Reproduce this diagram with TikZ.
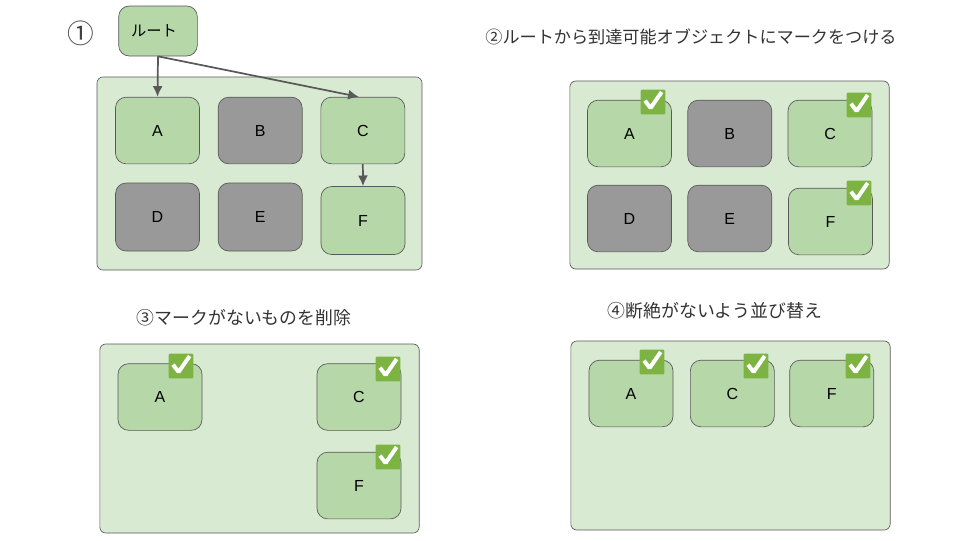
\documentclass[tikz,border=0pt]{standalone}
\usepackage{fontspec}
\setmainfont{Liberation Sans}
\newfontfamily\jpfont{Noto Sans CJK JP}
\usetikzlibrary{arrows.meta}
\definecolor{panel_col}{HTML}{D9EAD3}
\definecolor{live_col}{HTML}{B6D7A8}
\definecolor{dead_col}{HTML}{999999}
\definecolor{line_col}{HTML}{595959}
\definecolor{tick_col}{HTML}{7CB342}
\tikzstyle{line} = [draw=line_col, line width=1.3pt, -{Latex[length=8pt, width=7.5pt]}]
\tikzstyle{panel} = [rectangle, draw=line_col, line width=0.5pt, fill=panel_col, rounded corners=4.5pt, inner sep=0pt]
\tikzstyle{live} = [rectangle, draw=line_col, line width=0.5pt, fill=live_col, rounded corners=8pt, minimum width=63pt, minimum height=50pt, inner sep=0pt, font=\fontsize{12}{14}\selectfont, node distance=76pt]
\tikzstyle{dead} = [live, fill=dead_col]
\tikzstyle{title} = [text=black!80, inner sep=0pt, font=\jpfont\fontsize{13.4}{15}\selectfont]
\tikzstyle{tick} = [rectangle, fill=tick_col, rounded corners=0.8pt, minimum size=18.5pt, inner sep=0pt, path picture={
	\draw [white, line width=3pt, line join=miter] ([shift={(-6pt,1pt)}]path picture bounding box.center) -- ([shift={(-1.8pt,-4.5pt)}]path picture bounding box.center) -- ([shift={(6.5pt,7.5pt)}]path picture bounding box.center);
}]
\begin{document}
\begin{tikzpicture}[x=0.75pt, y=-0.75pt]
	\useasboundingbox (0,0) rectangle (960,540);
	
	% step 1
	\node [title, text=black!75, font=\jpfont\fontsize{20}{22}\selectfont] (t1) at (81,33) {①};
	\node [panel, minimum width=243.75pt, minimum height=144.75pt] (p1) at (259.5,173.5) {};
	\node [live, minimum width=59pt, minimum height=37.5pt, font=\jpfont\fontsize{11.5}{13}\selectfont, text depth=0pt, xshift=0pt] (root) at (158,31) {\hspace*{-6pt}ルート};
	\node [live] (a1) at (157.5,130.5) {A};
	\node [dead, right of=a1, node distance=77pt] (b1) {B};
	\node [live, right of=b1, node distance=77pt] (c1) {C};
	\node [dead, minimum height=51pt] (d1) at (157.5,217) {D};
	\node [dead, right of=d1, minimum height=51pt, node distance=77pt] (e1) {E};
	\node [live, minimum height=51pt] (f1) at (363,220.5) {F};
	\path [line] (root.south) to (a1.north);
	\path [line] (root.south) to ([xshift=-3pt]c1.north);
	\path [line] (c1.south) to (f1.north);
	
	% step 2
	\node [title, font=\jpfont\fontsize{12.85}{15}\selectfont] (t2) at (691,37) {②ルートから到達可能オブジェクトにマークをつける};
	\node [panel, minimum width=239.5pt, minimum height=141pt] (p2) at (729.5,175) {};
	\node [live] (a2) at (629.5,133.5) {A};
	\node [dead, right of=a2, node distance=75.2pt] (b2) {B};
	\node [live, right of=b2, node distance=75.2pt] (c2) {C};
	\node [dead] (d2) at (629.5,218.5) {D};
	\node [dead, right of=d2, node distance=75.2pt] (e2) {E};
	\node [live] (f2) at (830.5,221.5) {F};
	\node [tick] (m2a) at (653,102) {};
	\node [tick] (m2c) at (859,105) {};
	\node [tick] (m2f) at (859,193) {};
	
	% step 3
	\node [title] (t3) at (244,318) {③マークがないものを削除};
	\node [panel, minimum width=239.5pt, minimum height=141.75pt] (p3) at (259.5,438.5) {};
	\node [live] (a3) at (160,397) {A};
	\node [live] (c3) at (359,397) {C};
	\node [live, below of=c3, node distance=66.4pt] (f3) {F};
	\node [tick] (m3a) at (181,366) {};
	\node [tick] (m3c) at (388,369) {};
	\node [tick] (m3f) at (388,457) {};
	
	% step 4
	\node [title] (t4) at (715,311) {④断絶がないよう並び替え};
	\node [panel, minimum width=239.5pt, minimum height=141.75pt] (p4) at (730.5,435.5) {};
	\node [live] (a4) at (631,393.5) {A};
	\node [live, right of=a4] (c4) {C};
	\node [live, right of=c4, node distance=74.5pt] (f4) {F};
	\node [tick] (m4a) at (652,362) {};
	\node [tick] (m4c) at (756,366) {};
	\node [tick] (m4f) at (858,366) {};
\end{tikzpicture}
\end{document}
